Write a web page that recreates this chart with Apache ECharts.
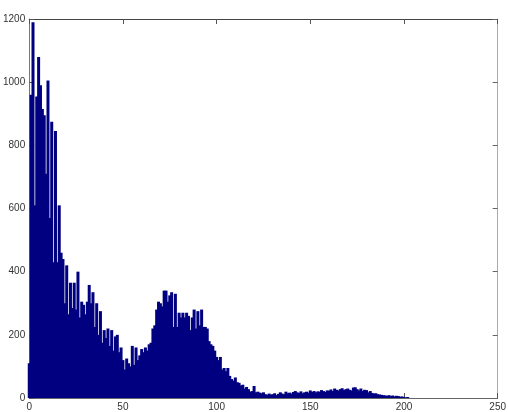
<!DOCTYPE html>
<html>
<head>
<meta charset="utf-8">
<script src="https://cdn.jsdelivr.net/npm/echarts@6/dist/echarts.min.js"></script>
<style>
html,body{margin:0;padding:0;background:#fff;}
#chart{width:509px;height:412px;}
</style>
</head>
<body>
<div id="chart"></div>
<script>
// Histogram bin counts, bins 0..202 (intensity values)
const counts = [
  110, 960, 1190, 610, 955, 1080, 990, 915, 895, 710,
  1005, 570, 875, 430, 845, 430, 610, 460, 440, 300,
  420, 265, 365, 285, 365, 280, 400, 255, 305, 295,
  265, 305, 358, 300, 335, 225, 300, 200, 275, 175,
  215, 190, 220, 165, 215, 150, 195, 200, 145, 160,
  120, 90, 125, 110, 100, 165, 105, 160, 120, 135,
  155, 145, 160, 150, 170, 175, 220, 230, 280, 305,
  300, 290, 340, 340, 305, 325, 335, 225, 330, 225,
  270, 255, 270, 255, 270, 260, 215, 255, 280, 220,
  275, 230, 280, 225, 225, 220, 180, 170, 165, 150,
  130, 120, 130, 90, 95, 85, 95, 70, 60, 55,
  65, 50, 48, 40, 42, 30, 35, 28, 20, 22,
  38, 18, 20, 17, 15, 18, 12, 10, 14, 11,
  12, 15, 9, 13, 18, 14, 12, 20, 15, 17,
  14, 19, 22, 18, 16, 21, 15, 18, 20, 17,
  24, 19, 22, 18, 21, 20, 25, 22, 19, 24,
  23, 27, 22, 30, 26, 24, 28, 31, 25, 28,
  30, 26, 24, 33, 34, 28, 24, 30, 22, 26,
  25, 18, 22, 16, 14, 15, 12, 11, 10, 9,
  8, 7, 9, 6, 8, 5, 7, 6, 4, 5,
  3, 2, 3
];
const bins = counts.map((_, i) => i);
const xTicks = [0, 50, 100, 150, 200, 250];
const yTicks = [0, 200, 400, 600, 800, 1000, 1200];

const chart = echarts.init(document.getElementById('chart'), null, {renderer: 'canvas'});
const labelFont = {color: '#333', fontSize: 10, fontFamily: 'Liberation Sans, Arial, sans-serif'};
const plain = v => String(v);
const option = {
  animation: false,
  backgroundColor: '#ffffff',
  grid: {left: 28, top: 19, width: 476, height: 381, containLabel: false},
  xAxis: [
    {
      type: 'value', min: xTicks[0], max: xTicks[xTicks.length - 1], interval: 50,
      position: 'bottom',
      axisLine: {show: true, lineStyle: {color: '#666', width: 1}},
      axisTick: {show: true, inside: true, length: 5, lineStyle: {color: '#555'}},
      axisLabel: Object.assign({margin: 4, formatter: plain}, labelFont),
      splitLine: {show: false}
    },
    {
      type: 'value', min: xTicks[0], max: xTicks[xTicks.length - 1], interval: 50,
      position: 'top',
      axisLine: {show: true, onZero: false, lineStyle: {color: '#444', width: 1}},
      axisTick: {show: true, inside: true, length: 5, lineStyle: {color: '#555'}},
      axisLabel: {show: false},
      splitLine: {show: false}
    }
  ],
  yAxis: [
    {
      type: 'value', min: yTicks[0], max: yTicks[yTicks.length - 1], interval: 200,
      position: 'left',
      axisLine: {show: true, lineStyle: {color: '#777', width: 1}},
      axisTick: {show: true, inside: true, length: 5, lineStyle: {color: '#555'}},
      axisLabel: Object.assign({margin: 4, formatter: plain}, labelFont),
      splitLine: {show: false}
    },
    {
      type: 'value', min: yTicks[0], max: yTicks[yTicks.length - 1], interval: 200,
      position: 'right',
      axisLine: {show: true, onZero: false, lineStyle: {color: '#aaa', width: 1}},
      axisTick: {show: true, inside: true, length: 5, lineStyle: {color: '#666'}},
      axisLabel: {show: false},
      splitLine: {show: false}
    }
  ],
  series: [{
    type: 'bar',
    xAxisIndex: 0,
    yAxisIndex: 0,
    data: bins.map((b, i) => [b, counts[i]]),
    barWidth: 3,
    itemStyle: {color: '#000080', borderWidth: 0},
    clip: true,
    z: 1
  }]
};
chart.setOption(option);
</script>
</body>
</html>
